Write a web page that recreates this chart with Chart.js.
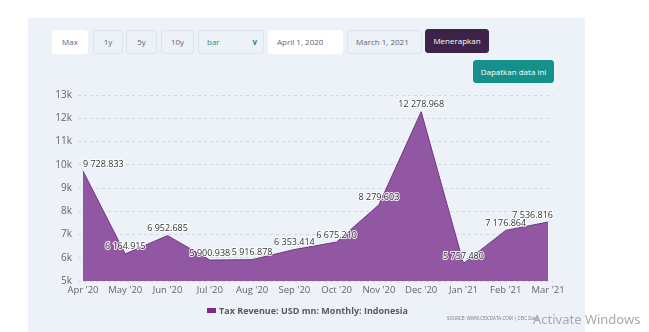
<!DOCTYPE html>
<html lang="id">
<head>
  <meta charset="UTF-8">
  <title>Tax Revenue Indonesia</title>
  <script src="https://cdn.jsdelivr.net/npm/chart.js"></script>
  <style>
    body { margin: 0; width: 649px; height: 332px; background: #fff; position: relative; overflow: hidden; font-family: "Open Sans", sans-serif; }
    .panel { position: absolute; left: 28px; top: 18px; width: 557px; height: 320px; background: #edf1f8; }
    .btn { position: absolute; box-sizing: border-box; height: 24px; top: 30px; font-size: 8px; color: #5f6475;
           border: 1px solid #dfe4ec; border-radius: 3px; background: #edf1f8; line-height: 22px; text-align: center; }
    .btn.white { background: #fff; border-color: #fff; }
    .btn.left { text-align: left; padding-left: 8px; }
    .dark { background: #3e2349; border-color: #3e2349; color: #fff; }
    .teal { background: #16908b; border-color: #16908b; color: #fff; }
    #chartBox { position: absolute; left: 0; top: 0; width: 649px; height: 332px; }
    .legend { position: absolute; left: 207px; top: 304px; font-size: 9px; font-weight: bold; color: #5a5a5a; }
    .legend i { display: inline-block; width: 9px; height: 5px; background: #7d2a8c; margin-right: 3px; vertical-align: 1px; }
    .source { position: absolute; left: 447px; top: 315px; font-size: 4.5px; color: #777; }
    .watermark { position: absolute; left: 533px; top: 310px; font-size: 13px; color: #a9a9a9; font-family: "Noto Sans", sans-serif; }
  </style>
</head>
<body>
  <div class="panel"></div>
  <div class="btn white" style="left:52px;width:36px;">Max</div>
  <div class="btn" style="left:93px;width:30px;">1y</div>
  <div class="btn" style="left:126px;width:31px;">5y</div>
  <div class="btn" style="left:161px;width:33px;">10y</div>
  <div class="btn left" style="left:198px;width:66px;color:#1f8f8a;">bar<span style="position:absolute;right:6px;color:#1f8f8a;font-weight:bold;">v</span></div>
  <div class="btn white left" style="left:268px;width:75px;">April 1, 2020</div>
  <div class="btn left" style="left:347px;width:75px;">March 1, 2021</div>
  <div class="btn dark" style="left:425px;width:64px;top:29px;">Menerapkan</div>
  <div class="btn teal" style="left:473px;width:81px;top:60px;height:23px;">Dapatkan data ini</div>

  <div id="chartBox"><canvas id="taxChart" width="649" height="332"></canvas></div>

  <div class="legend"><i></i>Tax Revenue: USD mn: Monthly: Indonesia</div>
  <div class="source">SOURCE: WWW.CEICDATA.COM | CEIC Data</div>
  <div class="watermark">Activate Windows</div>

  <script>
    // данные с картинки
    const months = ["Apr '20", "May '20", "Jun '20", "Jul '20", "Aug '20", "Sep '20",
                    "Oct '20", "Nov '20", "Dec '20", "Jan '21", "Feb '21", "Mar '21"];
    const revenue = [9728.833, 6164.915, 6952.685, 5900.938, 5916.878, 6353.414,
                     6675.210, 8279.603, 12278.968, 5757.480, 7176.864, 7536.816];
    const yTicks = [5000, 6000, 7000, 8000, 9000, 10000, 11000, 12000, 13000];

    function fmt(v) {
      const parts = v.toFixed(3).split('.');
      return parts[0].replace(/\B(?=(\d{3})+(?!\d))/g, ' ') + '.' + parts[1];
    }

    // подписи значений над точками
    const valueLabels = {
      id: 'valueLabels',
      afterDatasetsDraw(chart) {
        const ctx = chart.ctx;
        const xs = chart.scales.x;
        const meta = chart.getDatasetMeta(0);
        const minX = xs.getPixelForValue(0);
        const maxX = chart.chartArea.right;
        ctx.save();
        ctx.font = '9px "Open Sans", sans-serif';
        ctx.textBaseline = 'middle';
        ctx.lineJoin = 'round';
        meta.data.forEach((pt, i) => {
          const txt = fmt(revenue[i]);
          const w = ctx.measureText(txt).width;
          let left = pt.x - w / 2;
          if (left < minX) left = minX;
          if (left + w > maxX) left = maxX - w;
          const y = pt.y - 7;
          ctx.strokeStyle = 'rgba(255,255,255,0.85)';
          ctx.lineWidth = 2;
          ctx.strokeText(txt, left, y);
          ctx.fillStyle = '#333';
          ctx.fillText(txt, left, y);
        });
        ctx.restore();
      }
    };

    const ctx = document.getElementById('taxChart').getContext('2d');
    new Chart(ctx, {
      type: 'line',
      data: {
        datasets: [{
          label: 'Tax Revenue: USD mn: Monthly: Indonesia',
          data: revenue.map((v, i) => ({ x: i, y: v })),
          borderColor: '#6f3582',
          borderWidth: 1,
          backgroundColor: '#9157a3',
          fill: 'start',
          pointRadius: 0,
          tension: 0
        }]
      },
      options: {
        responsive: false,
        animation: false,
        layout: { padding: { left: 0, right: 96, top: 95, bottom: 31 } },
        plugins: { legend: { display: false }, tooltip: { enabled: false } },
        scales: {
          x: {
            type: 'linear',
            min: -0.118,
            max: 11.118,
            afterBuildTicks: (scale) => { scale.ticks = months.map((m, i) => ({ value: i })); },
            afterFit: (scale) => { scale.height = 20; },
            grid: { display: false, drawTicks: false },
            border: { display: false },
            ticks: {
              padding: 4,
              maxRotation: 0,
              autoSkip: false,
              color: '#666',
              font: { family: '"Open Sans", sans-serif', size: 9.5 },
              callback: (v) => months[v]
            }
          },
          y: {
            min: 5000,
            max: 13000,
            afterBuildTicks: (scale) => { scale.ticks = yTicks.map(v => ({ value: v })); },
            afterFit: (scale) => { scale.width = 78; },
            border: { display: false, dash: [3, 3] },
            grid: { color: '#d3d8e0', drawTicks: false, lineWidth: 1 },
            ticks: {
              padding: 6,
              color: '#666',
              font: { family: '"Open Sans", sans-serif', size: 10 },
              callback: (v) => (v / 1000) + 'k'
            }
          }
        }
      },
      plugins: [valueLabels]
    });
  </script>
</body>
</html>
